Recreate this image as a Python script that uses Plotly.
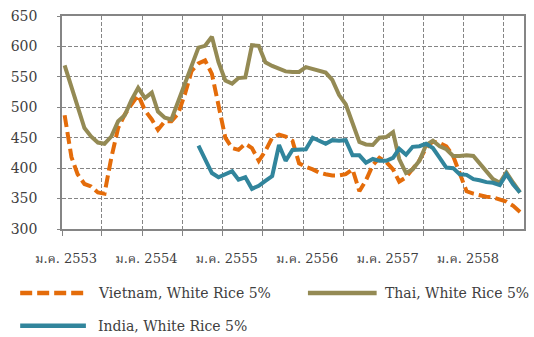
import plotly.graph_objects as go
import pandas as pd

# ---------------- data ----------------
months = [d.strftime("%Y-%m-13") for d in pd.date_range("2010-01-01", "2015-09-01", freq="MS")]

vietnam = [487, 418, 390, 374, 370, 360, 358, 417, 466, 488,
           505, 520, 495, 480, 463, 477, 477, 490, 521, 560,
           572, 577, 555, 505, 450, 433, 430, 440, 433, 412,
           428, 450, 455, 452, 445, 408, 402, 398, 393, 390,
           388, 388, 390, 398, 362, 380, 405, 417, 410, 398,
           378, 385, 398, 413, 433, 444, 441, 436, 420, 390,
           362, 358, 355, 353, 352, 348, 345, 338, 328]

thai = [569, 535, 500, 466, 452, 442, 440, 452, 477, 487,
        512, 532, 515, 524, 493, 483, 480, 510, 540, 568,
        598, 601, 616, 574, 544, 539, 548, 549, 602, 601,
        574, 568, 563, 559, 558, 558, 566, 563, 560, 557,
        545, 520, 505, 476, 443, 439, 438, 450, 451, 459,
        415, 392, 398, 412, 438, 445, 436, 431, 420, 420,
        421, 420, 408, 393, 382, 376, 393, 376, 360]

india = [None] * 20 + [437, 415, 392, 385, 390, 395, 381, 385, 366, 371,
                       379, 387, 438, 412, 430, 430, 431, 450, 445, 440,
                       446, 445, 446, 421, 421, 409, 415, 412, 412, 417,
                       432, 422, 435, 436, 440, 433, 417, 401, 400, 390,
                       389, 382, 380, 377, 376, 372, 390, 373, 360]

series_names = ["Vietnam, White Rice 5%", "Thai, White Rice 5%", "India, White Rice 5%"]

tick_dates = ["2010-01-01", "2010-07-01", "2011-01-01", "2011-07-01", "2012-01-01", "2012-07-01",
              "2013-01-01", "2013-07-01", "2014-01-01", "2014-07-01", "2015-01-01", "2015-07-01"]
tick_text = ["ม.ค. 2553", "", "ม.ค. 2554", "", "ม.ค. 2555", "",
             "ม.ค. 2556", "", "ม.ค. 2557", "", "ม.ค. 2558", ""]

# ---------------- style ----------------
C_VN = "#E46C0A"
C_TH = "#948A54"
C_IN = "#31859C"
GRID = "#858585"
FONT = "DejaVu Serif, Noto Serif Thai, Noto Sans Thai, serif"
VN_DASH = "12px,5px"

W, H = 534, 337
ML, MR, MT, MB = 62, 8, 13, 108

fig = go.Figure()
fig.add_trace(go.Scatter(x=months, y=vietnam, mode="lines", name=series_names[0],
                         line=dict(color=C_VN, width=4, dash=VN_DASH)))
fig.add_trace(go.Scatter(x=months, y=thai, mode="lines", name=series_names[1],
                         line=dict(color=C_TH, width=4)))
fig.add_trace(go.Scatter(x=months, y=india, mode="lines", name=series_names[2],
                         line=dict(color=C_IN, width=4)))

fig.update_layout(
    width=W, height=H,
    margin=dict(l=ML, r=MR, t=MT, b=MB),
    paper_bgcolor="white", plot_bgcolor="white",
    showlegend=False,
    font=dict(family=FONT, color="#404040"),
)
fig.update_xaxes(
    type="date", range=["2010-01-01", "2015-10-01"],
    tickmode="array", tickvals=tick_dates, ticktext=tick_text,
    showgrid=True, gridcolor=GRID, griddash="4px,2px", gridwidth=1.2,
    showline=True, linecolor=GRID, linewidth=1.5, mirror=True,
    ticks="outside", ticklen=5, tickcolor=GRID,
    tickfont=dict(size=13, family=FONT, color="#404040"),
    ticklabelshift=4, ticklabelstandoff=12,
    zeroline=False,
)
fig.update_yaxes(
    range=[300, 650], dtick=50, tick0=300,
    showgrid=True, gridcolor=GRID, griddash="4px,2px", gridwidth=1.2,
    showline=True, linecolor=GRID, linewidth=1.5, mirror=True,
    ticks="outside", ticklen=3, tickcolor=GRID,
    tickfont=dict(size=14, family=FONT, color="#404040"),
    ticklabelstandoff=17,
    zeroline=False,
)

# ---------------- manual legend ----------------
pw, ph = W - ML - MR, H - MT - MB
def px_x(x):
    return (x - ML) / pw
def px_y(y):
    return (H - MB - y) / ph

legend_items = [
    (series_names[0], C_VN, VN_DASH, 20, 86, 96, 294),
    (series_names[1], C_TH, "solid", 309, 378, 384, 294),
    (series_names[2], C_IN, "solid", 20, 86, 96, 327),
]
for name, col, dash, x0, x1, tx, y in legend_items:
    fig.add_shape(type="line", xref="paper", yref="paper",
                  x0=px_x(x0), x1=px_x(x1), y0=px_y(y), y1=px_y(y),
                  line=dict(color=col, width=4.5, dash=dash))
    fig.add_annotation(xref="paper", yref="paper", x=px_x(tx), y=px_y(y),
                       xanchor="left", yanchor="middle", showarrow=False,
                       text=name, font=dict(size=14, family=FONT, color="#404040"))

fig.write_html("out.html")
